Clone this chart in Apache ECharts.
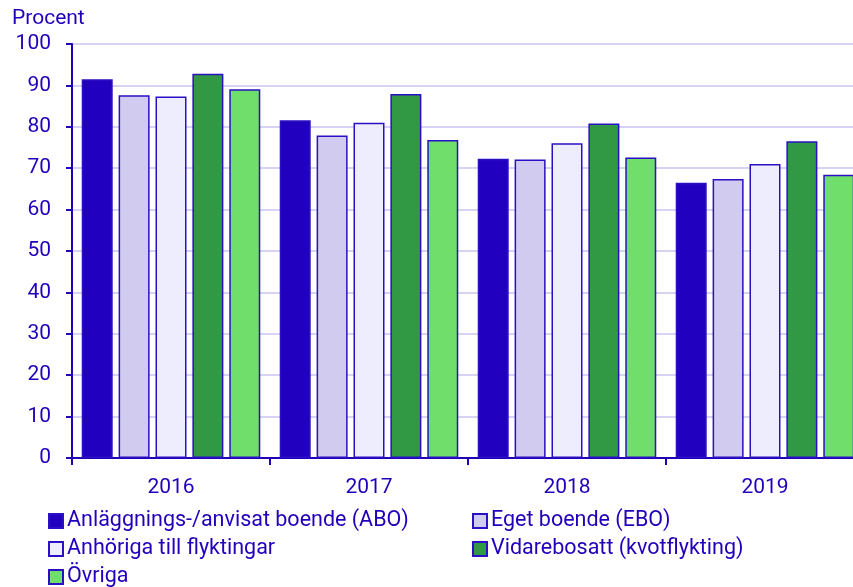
<!DOCTYPE html>
<html>
<head>
<meta charset="utf-8">
<script src="https://cdn.jsdelivr.net/npm/echarts@6/dist/echarts.min.js"></script>
<style>html,body{margin:0;padding:0;background:#fff;}#c{width:853px;height:587px;}</style>
</head>
<body>
<div id="c"></div>
<script>
const categories = ['2016', '2017', '2018', '2019'];
const seriesNames = ['Anläggnings-/anvisat boende (ABO)', 'Eget boende (EBO)', 'Anhöriga till flyktingar', 'Vidarebosatt (kvotflykting)', 'Övriga'];
const abo = [91.5, 81.6, 72.3, 66.5];
const ebo = [87.6, 77.9, 72.1, 67.4];
const anhoriga = [87.3, 81.0, 76.0, 71.0];
const vidare = [92.8, 87.9, 80.8, 76.5];
const ovriga = [89.1, 76.8, 72.6, 68.4];
const yTicks = [0, 10, 20, 30, 40, 50, 60, 70, 80, 90, 100];

const colors = ['#2200bf', '#d1cbf0', '#ededfd', '#319944', '#6fde6a'];
const txt = '#2200bb';
const font = 'Roboto';
const values = [abo, ebo, anhoriga, vidare, ovriga];

// legend slots: [column left, row top] per series
const legendLefts = [48, 472, 48, 472, 48];
const legendTops = [510, 510, 538, 538, 566];
const legends = seriesNames.map((n, i) => ({
  left: legendLefts[i], top: legendTops[i], padding: 0,
  itemWidth: 14, itemHeight: 14,
  icon: 'rect', align: 'left',
  textStyle: {color: txt, fontFamily: font, fontSize: 21.5, lineHeight: 18, padding: [0, 0, 0, -1]},
  data: [n]
}));

const chart = echarts.init(document.getElementById('c'), null, {renderer: 'canvas'});
chart.setOption({
  animation: false,
  backgroundColor: '#fff',
  title: {
    text: 'Procent', left: 12, top: 8, padding: [0, 0, 0, 0],
    textStyle: {color: txt, fontFamily: font, fontSize: 21, fontWeight: 'normal'}
  },
  legend: legends,
  grid: {left: 72, top: 44, width: 792, bottom: 129, containLabel: false, outerBoundsMode: 'none'},
  xAxis: {
    type: 'category', data: categories,
    axisLine: {lineStyle: {color: txt, width: 2}},
    axisTick: {show: true, length: 7, lineStyle: {color: txt, width: 2}},
    axisLabel: {color: txt, fontFamily: font, fontSize: 21, margin: 19}
  },
  yAxis: {
    type: 'value', min: yTicks[0], max: yTicks[yTicks.length - 1], interval: 10,
    axisLine: {show: true, lineStyle: {color: txt, width: 2}},
    axisTick: {show: true, length: 6, lineStyle: {color: txt, width: 2}},
    axisLabel: {color: txt, fontFamily: font, fontSize: 21, margin: 21},
    splitLine: {lineStyle: {color: '#d6d4f2', width: 2}}
  },
  series: seriesNames.map((n, i) => ({
    name: n, type: 'bar', data: values[i],
    barWidth: 31, barGap: '19%',
    itemStyle: {color: colors[i], borderColor: '#2a10c4', borderWidth: 1.5}
  }))
});
</script>
</body>
</html>
